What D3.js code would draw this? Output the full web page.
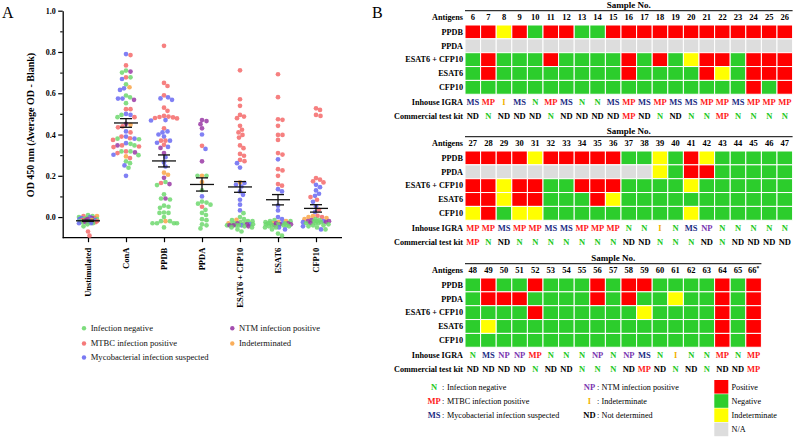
<!DOCTYPE html>
<html><head><meta charset="utf-8">
<script src="https://cdn.jsdelivr.net/npm/d3@7"></script>
<style>
body{margin:0;background:#fff}
svg{display:block}
svg text{font-family:"Liberation Serif","Times New Roman","DejaVu Serif",serif !important}
</style>
</head><body>
<svg id="chart" width="793" height="437"></svg>
<script>
// ---------------- DATA: panel A ----------------
const categories = ["Unstimulated","ConA","PPDB","PPDA","ESAT6 + CFP10","ESAT6","CFP10"];
const yTicks = [0.0,0.2,0.4,0.6,0.8,1.0];
const yMinorTicks = [0.1,0.3,0.5,0.7,0.9];
const groupCodes = ["N","MP","MS","NP","I"];
const groupNames = ["Infection negative","MTBC infection positive","Mycobacterial infection suspected","NTM infection positive","Indeterminated"];
const means = [-0.018,0.456,0.272,0.158,0.146,0.084,0.042];
const sems  = [0.003,0.021,0.029,0.032,0.026,0.025,0.018];

const unstimulated = [
 [0.01,"N"],[0.005,"N"],[-0.005,"N"],[-0.01,"N"],[-0.015,"N"],[-0.02,"N"],[-0.025,"N"],[-0.03,"N"],[-0.035,"N"],[-0.045,"N"],[0.0,"N"],[-0.02,"N"],[-0.01,"N"],
 [-0.005,"MP"],[-0.015,"MP"],[-0.02,"MP"],[-0.01,"MP"],[-0.025,"MP"],[0.005,"MP"],[-0.07,"MP"],[-0.09,"MP"],[-0.02,"MP"],
 [-0.01,"MS"],[-0.02,"MS"],[-0.015,"MS"],[-0.025,"MS"],[-0.03,"MS"],[0.0,"MS"],[-0.005,"MS"],[-0.02,"MS"],[-0.01,"MS"],[-0.03,"MS"],
 [-0.015,"NP"],[-0.02,"NP"],[-0.01,"NP"],[-0.025,"NP"],[-0.005,"NP"],
 [0.005,"I"],[-0.015,"I"],[-0.02,"I"]
];
const conA = [
 [0.79,"MS"],[0.669,"MS"],[0.624,"MS"],[0.616,"MS"],[0.574,"MS"],[0.574,"MS"],[0.5,"MS"],[0.495,"MS"],[0.415,"MS"],[0.39,"MS"],[0.358,"MS"],[0.302,"MS"],[0.25,"MS"],[0.2,"MS"],[0.38,"MS"],
 [0.785,"MP"],[0.735,"MP"],[0.677,"MP"],[0.523,"MP"],[0.523,"MP"],[0.484,"MP"],[0.439,"MP"],[0.435,"MP"],[0.41,"MP"],[0.382,"MP"],[0.374,"MP"],[0.39,"MP"],[0.342,"MP"],[0.339,"MP"],[0.347,"MP"],[0.31,"MP"],[0.318,"MP"],[0.286,"MP"],
 [0.70,"N"],[0.71,"N"],[0.677,"N"],[0.643,"N"],[0.589,"N"],[0.58,"N"],[0.552,"N"],[0.495,"N"],[0.484,"N"],[0.38,"N"],[0.377,"N"],[0.347,"N"],[0.355,"N"],[0.318,"N"],[0.318,"N"],[0.27,"N"],[0.261,"N"],[0.239,"N"],[0.30,"N"],
 [0.705,"NP"],[0.568,"NP"],[0.452,"NP"],[0.347,"NP"],[0.313,"NP"],
 [0.629,"I"],[0.447,"I"],[0.294,"I"]
];
const ppdb = [
 [0.83,"MP"],[0.65,"MP"],[0.635,"MP"],[0.59,"MP"],[0.53,"MP"],[0.515,"MP"],[0.49,"MP"],[0.487,"MP"],[0.485,"MP"],[0.483,"MP"],[0.48,"MP"],[0.478,"MP"],[0.43,"MP"],[0.37,"MP"],[0.37,"MP"],[0.35,"MP"],[0.165,"MP"],
 [0.58,"MS"],[0.575,"MS"],[0.568,"MS"],[0.47,"MS"],[0.468,"MS"],[0.415,"MS"],[0.41,"MS"],[0.40,"MS"],[0.39,"MS"],[0.37,"MS"],[0.36,"MS"],[0.34,"MS"],[0.29,"MS"],[0.265,"MS"],[0.245,"MS"],
 [0.335,"NP"],[0.31,"NP"],[0.19,"NP"],[0.16,"NP"],[0.09,"NP"],
 [0.215,"I"],[0.205,"I"],[-0.02,"I"],
 [0.17,"N"],[0.155,"N"],[0.11,"N"],[0.09,"N"],[0.085,"N"],[0.05,"N"],[0.045,"N"],[0.02,"N"],[0.022,"N"],[0.02,"N"],[-0.03,"N"],[-0.03,"N"],[-0.03,"N"],[-0.03,"N"],[-0.02,"N"],[-0.02,"N"],[-0.05,"N"],[0.0,"N"],[0.055,"N"]
];
const ppda = [
 [0.47,"NP"],[0.465,"NP"],[0.45,"NP"],[0.43,"NP"],[0.27,"NP"],
 [0.40,"MS"],[0.33,"MS"],[0.10,"MS"],
 [0.345,"MP"],[0.05,"MP"],
 [0.2,"I"],[0.17,"I"],
 [0.2,"N"],[0.2,"N"],[0.13,"N"],[0.075,"N"],[0.07,"N"],[0.065,"N"],[0.06,"N"],[0.035,"N"],[0.02,"N"],[0.01,"N"],[-0.01,"N"],[-0.015,"N"],[-0.035,"N"],[-0.04,"N"],[-0.055,"N"]
];
const esat6cfp10 = [
 [0.711,"MP"],[0.571,"MP"],[0.539,"MP"],[0.495,"MP"],[0.487,"MP"],[0.479,"MP"],[0.442,"MP"],[0.423,"MP"],[0.41,"MP"],[0.398,"MP"],[0.385,"MP"],[0.347,"MP"],[0.334,"MP"],[0.306,"MP"],[0.297,"MP"],[0.277,"MP"],[0.271,"MP"],
 [0.261,"MS"],[0.24,"MS"],[0.165,"MS"],[0.156,"MS"],[0.148,"MS"],[0.124,"MS"],[0.108,"MS"],[0.084,"MS"],[0.06,"MS"],[0.032,"MS"],[-0.035,"MS"],[-0.04,"MS"],
 [0.168,"I"],[-0.013,"I"],[-0.03,"I"],
 [0.019,"N"],[0.0,"N"],[-0.01,"N"],[-0.02,"N"],[-0.025,"N"],[-0.03,"N"],[-0.035,"N"],[-0.04,"N"],[-0.045,"N"],[-0.05,"N"],[-0.06,"N"],[-0.07,"N"],[-0.03,"N"],[-0.04,"N"],[-0.015,"N"],[-0.02,"N"],[-0.035,"N"],[-0.04,"N"],[-0.05,"N"],
 [-0.035,"NP"],[-0.04,"NP"],[-0.03,"NP"],[-0.045,"NP"],[-0.04,"NP"]
];
const esat6 = [
 [0.692,"MP"],[0.581,"MP"],[0.474,"MP"],[0.471,"MP"],[0.442,"MP"],[0.398,"MP"],[0.398,"MP"],[0.374,"MP"],[0.31,"MP"],[0.303,"MP"],[0.232,"MP"],[0.226,"MP"],[0.2,"MP"],[0.16,"MP"],[0.152,"MP"],
 [0.28,"MS"],[0.135,"MS"],[0.124,"MS"],[0.055,"MS"],[0.032,"MS"],[0.0,"MS"],[-0.01,"MS"],[-0.03,"MS"],[-0.05,"MS"],[-0.06,"MS"],
 [-0.02,"I"],[-0.025,"I"],[-0.03,"I"],
 [-0.03,"NP"],[-0.035,"NP"],[-0.035,"NP"],[-0.03,"NP"],[-0.04,"NP"],
 [-0.015,"N"],[-0.02,"N"],[-0.025,"N"],[-0.03,"N"],[-0.035,"N"],[-0.04,"N"],[-0.045,"N"],[-0.03,"N"],[-0.04,"N"],[-0.05,"N"],[-0.06,"N"],[-0.08,"N"],[-0.09,"N"],[-0.02,"N"],[-0.035,"N"],[-0.04,"N"],[-0.05,"N"],[-0.03,"N"],[-0.045,"N"]
];
const cfp10 = [
 [0.527,"MP"],[0.519,"MP"],[0.495,"MP"],[0.49,"MP"],[0.189,"MP"],[0.181,"MP"],[0.173,"MP"],[0.168,"MP"],[0.097,"MP"],[0.084,"MP"],[0.035,"MP"],[0.006,"MP"],[0.0,"MP"],
 [0.156,"MS"],[0.145,"MS"],[0.129,"MS"],[0.113,"MS"],[0.103,"MS"],[0.074,"MS"],[0.052,"MS"],[0.024,"MS"],[-0.02,"MS"],[-0.025,"MS"],[-0.045,"MS"],[-0.06,"MS"],
 [0.005,"I"],[0.0,"I"],[-0.005,"I"],[-0.01,"I"],
 [-0.02,"NP"],[-0.015,"NP"],[-0.025,"NP"],[-0.03,"NP"],[-0.02,"NP"],
 [-0.015,"N"],[-0.02,"N"],[-0.03,"N"],[-0.035,"N"],[-0.04,"N"],[-0.05,"N"],[-0.06,"N"],[-0.02,"N"],[-0.025,"N"],[-0.03,"N"],[-0.04,"N"],[-0.01,"N"],[-0.03,"N"],[-0.045,"N"]
];
const categoryPoints = [unstimulated, conA, ppdb, ppda, esat6cfp10, esat6, cfp10];

// ---------------- DATA: panel B ----------------
const antigens = ["PPDB","PPDA","ESAT6 + CFP10","ESAT6","CFP10"];
const samples1 = [6,7,8,9,10,11,12,13,14,15,16,17,18,19,20,21,22,23,24,25,26];
const samples2 = [27,28,29,30,31,32,33,34,35,36,37,38,39,40,41,42,43,44,45,46,47];
const samples3 = [48,49,50,51,52,53,54,55,56,57,58,59,60,61,62,63,64,65,66];
const starredSamples = [66];
// P = positive, N = negative, I = indeterminate, - = N/A
const results1 = [
 "PPIPNPPNNPPPPPPPPPPPP".split(""),
 "---------------------".split(""),
 "NPNNNPNNNNPNPNIPPNPPP".split(""),
 "NPNNNNNNNNPNNNNPINPPP".split(""),
 "NNNNNNNNNNNNNNNNNNPNP".split("")
];
const results2 = [
 "PPPPIPPPPPNNINPINNNNN".split(""),
 "------------INPPNNNNN".split(""),
 "PPIPPNNPPPNNNNINNNNNN".split(""),
 "PPIPPNNNPINNNNNNNNNNN".split(""),
 "IPNIINNNNNNNNNINNNNNN".split("")
];
const results3 = [
 "NPNNPNNNPNPPNNNNPNP".split(""),
 "NPPPNNNNPNPNNINNPNP".split(""),
 "NNNNPNNNNNNINNNNPNP".split(""),
 "NINNNNNNNNNNNNNNPNP".split(""),
 "NNNNNNNNNNNNNNNNPNP".split("")
];
const inhouse1 = ["MS","MP","I","MS","N","MP","MS","N","N","MS","MP","MS","MP","MS","MS","MP","MP","MS","MP","MP","MP"];
const commercial1 = ["ND","N","ND","ND","ND","N","ND","ND","ND","ND","MP","ND","N","ND","N","N","MP","N","N","N","N"];
const inhouse2 = ["MP","MP","MS","MP","MP","MS","MS","MP","MP","MP","N","N","I","N","MS","NP","N","N","N","N","N"];
const commercial2 = ["MP","N","ND","N","N","N","N","N","N","N","ND","ND","N","N","N","ND","N","ND","ND","ND","ND"];
const inhouse3 = ["N","MS","NP","NP","MP","N","N","N","NP","N","NP","MS","N","I","N","N","MP","N","MP"];
const commercial3 = ["ND","ND","ND","ND","N","ND","ND","N","N","N","ND","MP","ND","N","ND","N","ND","ND","MP"];
const legendCodes1 = [["N","Infection negative"],["MP","MTBC infection positive"],["MS","Mycobacterial infection suspected"]];
const legendCodes2 = [["NP","NTM infection positive"],["I","Indeterminate"],["ND","Not determined"]];
const legendCells = [["P","Positive"],["N","Negative"],["I","Indeterminate"],["-","N/A"]];

// ---------------- STYLES ----------------
const FONT = "'Liberation Serif','Times New Roman','DejaVu Serif',serif";
const dotColor = {N:"#6fd86f", MP:"#f46a6a", MS:"#6a6af2", NP:"#9a3aa6", I:"#f9a548"};
const cellColor = {P:"#ff0000", N:"#2ccd2c", I:"#ffff00", "-":"#dddddd"};
const codeColor = {N:"#22c822", MP:"#ff1a1a", MS:"#1c2c84", I:"#f2b200", NP:"#7a35b0", ND:"#000000"};

const svg = d3.select("#chart").attr("font-family",FONT);
svg.append("rect").attr("width",793).attr("height",437).attr("fill","#fff");

// ---------------- PANEL A ----------------
const y = d3.scaleLinear().domain([-0.1,1.0]).range([237.7,10.7]);
const x = d3.scalePoint().domain(categories).range([88,316]);
const axisX0 = 62.7, axisX1 = 342;

const gA = svg.append("g");
const yAxis = gA.append("g").attr("transform",`translate(${axisX0},0)`)
  .call(d3.axisLeft(y).tickValues(yTicks).tickFormat(d3.format(".1f")).tickSize(4.5).tickSizeOuter(0).tickPadding(2.5));
yAxis.attr("font-family",FONT);
yAxis.select(".domain").attr("stroke","#000").attr("stroke-width",1.3);
yAxis.selectAll(".tick line").attr("stroke","#000").attr("stroke-width",1.2);
yAxis.selectAll(".tick text").attr("font-weight","bold").attr("font-size",8).attr("fill","#000");
const yMinor = gA.append("g").attr("transform",`translate(${axisX0},0)`)
  .call(d3.axisLeft(y).tickValues(yMinorTicks).tickFormat("").tickSize(2.5).tickSizeOuter(0));
yMinor.select(".domain").remove();
yMinor.selectAll(".tick line").attr("stroke","#000").attr("stroke-width",1.1);

const xAxis = gA.append("g").attr("transform",`translate(0,${y(-0.1)})`)
  .call(d3.axisBottom(x).tickSize(4.5).tickSizeOuter(0));
xAxis.attr("font-family",FONT);
xAxis.select(".domain").remove();
xAxis.selectAll(".tick line").attr("stroke","#000").attr("stroke-width",1.2);
xAxis.selectAll(".tick text")
  .attr("font-weight","bold").attr("font-size",8.5).attr("fill","#000")
  .attr("transform","rotate(-90)").attr("x",-10).attr("y",0).attr("dy","0.33em").attr("text-anchor","end");
gA.append("line").attr("x1",axisX0).attr("x2",axisX1).attr("y1",y(-0.1)).attr("y2",y(-0.1))
  .attr("stroke","#000").attr("stroke-width",1.3);

gA.append("text").attr("transform","translate(33.5,125) rotate(-90)").attr("text-anchor","middle")
  .attr("font-weight","bold").attr("font-size",10).text("OD 450 nm (Average OD - Blank)");

// beeswarm layout
function swarm(pts, cx, r, maxOff){
  const arr = pts.map(p=>({v:p[0], g:p[1], py:y(p[0])})).sort((a,b)=>a.py-b.py);
  const placed = [];
  const minD = 2*r*0.92;
  const offs = [0];
  for(let k=0.5;k<=maxOff;k+=0.5){offs.push(k);offs.push(-k);}
  arr.forEach(p=>{
    let best=0, bestD=-1, chosen=null;
    for(const o of offs){
      let d = Infinity;
      for(const q of placed){
        const dy=q.py-p.py; if(Math.abs(dy)>=minD) continue;
        const dd=Math.hypot(q.x-(cx+o),dy); if(dd<d) d=dd;
      }
      if(d>=minD){chosen=o;break;}
      if(d>bestD){bestD=d;best=o;}
    }
    p.x = cx + (chosen!==null?chosen:best);
    placed.push(p);
  });
  return placed;
}
const r = 2.35;
const dotLayer = gA.append("g");
categories.forEach((c,i)=>{
  const maxOff = i===0 ? 9 : 13;
  const pts = swarm(categoryPoints[i], x(c), r, maxOff);
  dotLayer.selectAll(null).data(pts).join("circle")
    .attr("cx",d=>d.x).attr("cy",d=>d.py).attr("r",r)
    .attr("fill",d=>dotColor[d.g]).attr("fill-opacity",0.85);
});
// mean +/- SEM
const statLayer = gA.append("g").attr("stroke","#111").attr("stroke-width",1.3).attr("fill","none");
categories.forEach((c,i)=>{
  const cx=x(c), m=means[i], s=sems[i];
  statLayer.append("line").attr("x1",cx-12).attr("x2",cx+12).attr("y1",y(m)).attr("y2",y(m));
  statLayer.append("line").attr("x1",cx).attr("x2",cx).attr("y1",y(m+s)).attr("y2",y(m-s));
  statLayer.append("line").attr("x1",cx-6).attr("x2",cx+6).attr("y1",y(m+s)).attr("y2",y(m+s));
  statLayer.append("line").attr("x1",cx-6).attr("x2",cx+6).attr("y1",y(m-s)).attr("y2",y(m-s));
});

// legend A
const legA = gA.append("g");
const legPos = [[84,328.3],[84,343.5],[84,357.5],[232.3,328.3],[232.3,343.5]];
groupCodes.forEach((g,i)=>{
  const [lx,ly]=legPos[i];
  legA.append("circle").attr("cx",lx).attr("cy",ly).attr("r",2.2).attr("fill",dotColor[g]).attr("fill-opacity",0.9);
  legA.append("text").attr("x",lx+6.7).attr("y",ly).attr("dy","0.33em").attr("font-size",8.6).attr("fill","#111").text(groupNames[i]);
});

svg.append("text").attr("x",2).attr("y",18).attr("font-size",16).text("A");
svg.append("text").attr("x",372).attr("y",18).attr("font-size",16).text("B");

// ---------------- PANEL B ----------------
const gB = svg.append("g");
const colX0 = 465, colW = 15.6, rowH = 13.85, labelX = 463;
const blocks = [
  {samples:samples1, results:results1, inhouse:inhouse1, commercial:commercial1, dy:0},
  {samples:samples2, results:results2, inhouse:inhouse2, commercial:commercial2, dy:126},
  {samples:samples3, results:results3, inhouse:inhouse3, commercial:commercial3, dy:253}
];
blocks.forEach(b=>{
  const n=b.samples.length;
  const xs = d3.scaleBand().domain(b.samples).range([colX0, colX0+n*colW]);
  const ys = d3.scaleBand().domain(antigens).range([25+b.dy, 25+b.dy+5*rowH]);
  const g = gB.append("g");
  g.append("text").attr("x",colX0+n*colW/2).attr("y",7.6+b.dy).attr("text-anchor","middle")
    .attr("font-weight","bold").attr("font-size",9).text("Sample No.");
  g.append("line").attr("x1",colX0).attr("x2",colX0+n*colW).attr("y1",10.7+b.dy).attr("y2",10.7+b.dy)
    .attr("stroke","#333").attr("stroke-width",1.2);
  g.append("text").attr("x",labelX).attr("y",20+b.dy).attr("text-anchor","end")
    .attr("font-weight","bold").attr("font-size",8.2).text("Antigens");
  b.samples.forEach(s=>{
    const t=g.append("text").attr("x",xs(s)+colW/2).attr("y",20+b.dy).attr("text-anchor","middle")
      .attr("font-weight","bold").attr("font-size",8.5).text(s);
    if(starredSamples.includes(s)) t.append("tspan").attr("font-size",5.5).attr("dy",-3).text("*");
  });
  antigens.forEach((a,ri)=>{
    g.append("text").attr("x",labelX).attr("y",ys(a)+rowH/2).attr("dy","0.34em").attr("text-anchor","end")
      .attr("font-weight","bold").attr("font-size",8.2).text(a);
    g.selectAll(null).data(b.results[ri].map((v,ci)=>({v,s:b.samples[ci]}))).join("rect")
      .attr("x",d=>xs(d.s)).attr("y",ys(a)).attr("width",colW).attr("height",rowH)
      .attr("fill",d=>cellColor[d.v]).attr("stroke","#fff").attr("stroke-width",1);
  });
  g.append("text").attr("x",labelX).attr("y",104.5+b.dy).attr("text-anchor","end")
    .attr("font-weight","bold").attr("font-size",8.2).text("Inhouse IGRA");
  g.append("text").attr("x",labelX).attr("y",118.5+b.dy).attr("text-anchor","end")
    .attr("font-weight","bold").attr("font-size",8.2).text("Commercial test kit");
  b.samples.forEach((s,ci)=>{
    g.append("text").attr("x",xs(s)+colW/2).attr("y",104.5+b.dy).attr("text-anchor","middle")
      .attr("font-weight","bold").attr("font-size",8.5).attr("fill",codeColor[b.inhouse[ci]]).text(b.inhouse[ci]);
    g.append("text").attr("x",xs(s)+colW/2).attr("y",118.5+b.dy).attr("text-anchor","middle")
      .attr("font-weight","bold").attr("font-size",8.5).attr("fill",codeColor[b.commercial[ci]]).text(b.commercial[ci]);
  });
});

// legend B
const legB = gB.append("g");
const legY = [390,404,418];
legendCodes1.forEach(([c,t],i)=>{
  legB.append("text").attr("x",434).attr("y",legY[i]).attr("text-anchor","middle").attr("font-weight","bold")
    .attr("font-size",8.5).attr("fill",codeColor[c]).text(c);
  legB.append("text").attr("x",442).attr("y",legY[i]).attr("font-size",8.2).text(":");
  legB.append("text").attr("x",447).attr("y",legY[i]).attr("font-size",8.2).text(t);
});
legendCodes2.forEach(([c,t],i)=>{
  legB.append("text").attr("x",589.5).attr("y",legY[i]).attr("text-anchor","middle").attr("font-weight","bold")
    .attr("font-size",8.5).attr("fill",codeColor[c]).text(c);
  legB.append("text").attr("x",597).attr("y",legY[i]).attr("font-size",8.2).text(":");
  legB.append("text").attr("x",601.5).attr("y",legY[i]).attr("font-size",8.2).text(t);
});
legendCells.forEach(([c,t],i)=>{
  const top = 380 + i*14.2;
  legB.append("rect").attr("x",714.3).attr("y",top).attr("width",14).attr("height",13.6).attr("fill",cellColor[c]);
  legB.append("text").attr("x",731.5).attr("y",top+6.8).attr("dy","0.34em").attr("font-size",8.2).text(t);
});
</script>
</body></html>
